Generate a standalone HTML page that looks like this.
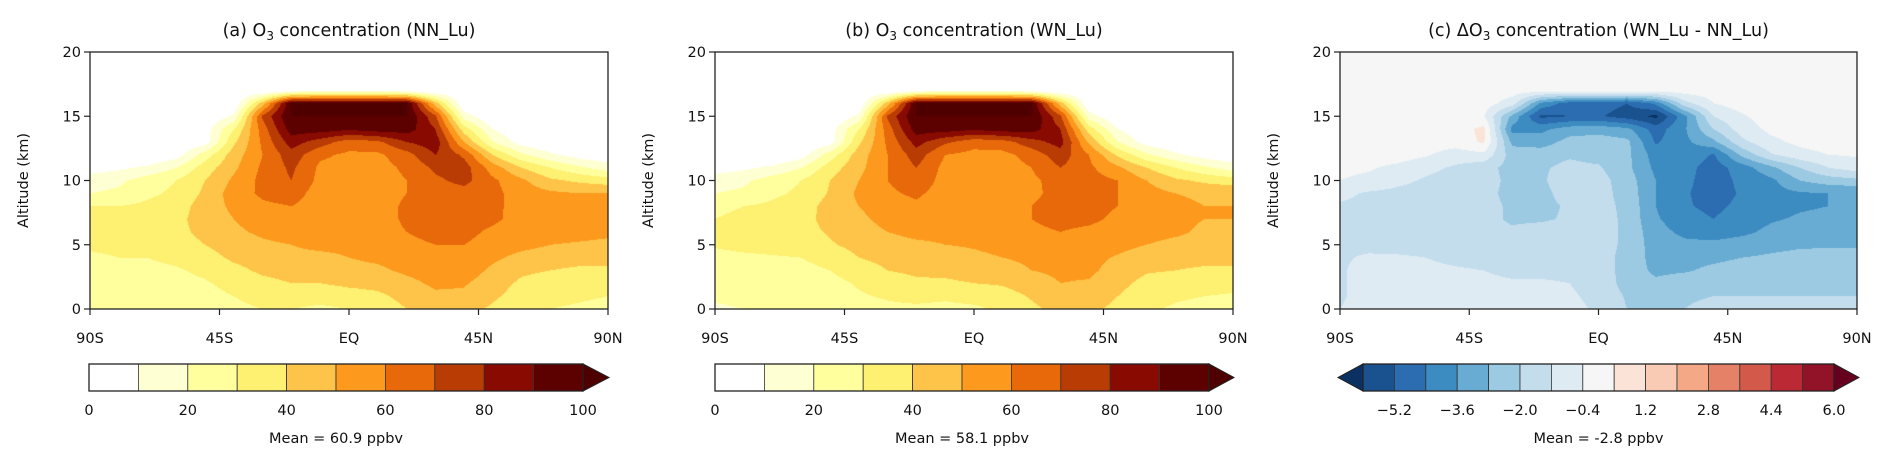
<!DOCTYPE html>
<html><head><meta charset="utf-8">
<style>
html,body{margin:0;padding:0;background:#fff;}
#wrap{position:relative;width:1892px;height:464px;overflow:hidden;font-family:"DejaVu Sans","Liberation Sans",sans-serif;}
canvas{position:absolute;}
svg{position:absolute;left:0;top:0;}
</style></head>
<body>
<div id="wrap">
<canvas id="cA"></canvas>
<canvas id="cB"></canvas>
<canvas id="cC"></canvas>
<svg id="ov" width="1892" height="464"></svg>
</div>
<script>
const latitudes=[-90,-80,-70,-60,-50,-40,-30,-20,-10,0,10,20,30,40,50,60,70,80,90];
const altitudes=[20,19,18,17,16,15,14,13,12,11,10,9,8,7,6,5,4,3,2,1,0];
const xTickLabels=["90S","45S","EQ","45N","90N"];
const yTickLabels=["0","5","10","15","20"];
const o3Levels=[0,10,20,30,40,50,60,70,80,90,100];
const o3TickLabels=["0","20","40","60","80","100"];
const dLevelsStart=-6.0, dLevelsStep=0.8;
const dTickLabels=["\u22125.2","\u22123.6","\u22122.0","\u22120.4","1.2","2.8","4.4","6.0"];
const meanNN="Mean = 60.9 ppbv", meanWN="Mean = 58.1 ppbv", meanD="Mean = -2.8 ppbv";

const o3NN=[
[0,0,0,0,0,0,0,0,0,0,0,0,0,0,0,0,0,0,0],
[0,0,0,0,0,0,0,0,0,0,0,0,0,0,0,0,0,0,0],
[0,0,0,0,0,0,0,0,0,0,0,0,0,0,0,0,0,0,0],
[0,0,0,0,0,0,0,5,8,8,8,5,0,0,0,0,0,0,0],
[0,0,0,0,0,0,45,100,100,100,100,100,45,0,0,0,0,0,0],
[0,0,0,0,0,12,72,100,100,100,100,100,72,15,0,0,0,0,0],
[0,0,0,0,5,30,65,95,95,92,95,95,80,35,10,0,0,0,0],
[0,0,0,0,5,38,62,85,75,65,68,80,86,50,20,5,0,0,0],
[0,0,0,5,25,45,60,76,62,58,58,66,80,68,40,22,12,5,2],
[5,8,12,20,35,48,62,72,58,56,56,62,72,75,55,40,30,22,15],
[15,18,25,30,40,52,63,70,57,55,55,60,68,73,62,52,42,38,35],
[20,22,28,32,42,55,62,65,55,54,55,60,65,66,63,55,52,50,50],
[30,30,32,35,45,52,58,60,55,54,55,62,66,66,63,55,54,53,53],
[32,33,35,37,45,50,55,57,55,54,55,62,65,65,62,56,55,54,54],
[33,34,35,37,43,48,52,55,55,54,55,60,64,63,58,55,54,53,52],
[32,33,34,35,40,45,48,50,52,52,55,57,60,60,56,53,50,49,48],
[28,30,30,32,36,42,45,48,48,50,52,55,57,57,52,47,45,44,44],
[25,27,28,29,32,37,42,44,45,47,48,52,55,55,48,42,40,38,38],
[23,25,26,27,29,33,37,40,40,42,43,47,52,51,45,38,35,34,33],
[22,23,24,25,27,30,33,35,34,36,38,43,48,48,42,35,32,31,30],
[20,21,22,23,25,28,30,30,28,30,34,40,45,45,38,32,30,29,28]];

const o3WN=[
[0,0,0,0,0,0,0,0,0,0,0,0,0,0,0,0,0,0,0],
[0,0,0,0,0,0,0,0,0,0,0,0,0,0,0,0,0,0,0],
[0,0,0,0,0,0,0,0,0,0,0,0,0,0,0,0,0,0,0],
[0,0,0,0,0,0,0,5,8,8,8,5,0,0,0,0,0,0,0],
[0,0,0,0,0,0,45,100,100,100,100,100,45,0,0,0,0,0,0],
[0,0,0,0,0,12,72,100,100,100,100,100,72,15,0,0,0,0,0],
[0,0,0,0,5,30,65,95,95,92,95,95,80,35,10,0,0,0,0],
[0,0,0,0,5,38,62,84,72,64,66,76,84,48,20,5,0,0,0],
[0,0,0,5,25,45,60,75,60,57,57,64,76,60,38,22,12,5,2],
[5,8,12,20,35,47,60,70,57,55,55,60,70,62,52,40,30,22,15],
[15,18,25,30,40,50,60,67,56,54,54,58,64,64,60,50,42,38,35],
[20,22,28,32,41,52,58,62,55,53,54,58,63,64,60,54,50,48,48],
[28,30,32,35,44,50,55,58,54,53,54,60,64,63,60,55,53,50,50],
[30,32,35,37,43,48,53,55,54,53,54,60,63,62,58,55,53,50,50],
[33,34,35,37,41,46,50,53,53,53,54,58,60,58,56,54,52,48,47],
[31,33,34,35,39,43,46,48,50,51,53,55,57,56,53,50,47,46,46],
[27,28,29,30,34,40,43,46,46,48,50,52,54,53,49,45,44,44,44],
[24,25,26,27,30,35,40,42,43,45,46,50,52,52,46,41,40,38,38],
[22,23,24,25,27,31,35,38,38,40,41,45,50,49,43,37,35,34,33],
[21,22,23,24,26,29,31,33,32,34,36,41,46,46,40,34,31,30,29],
[19,20,21,22,24,27,28,28,27,28,32,38,43,43,37,31,29,28,27]];

const dO3=[
[0,0,0,0,0,0,0,0,0,0,0,0,0,0,0,0,0,0,0],
[0,0,0,0,0,0,0,0,0,0,0,0,0,0,0,0,0,0,0],
[0,0,0,0,0,0,0,0,0,0,0,0,0,0,0,0,0,0,0],
[0,0,0,0,0,0,0,0,0,0,0,0,0,0,0,0,0,0,0],
[0,0,0,0,0,0,-0.8,-3.8,-4.8,-4.8,-5.2,-4.2,-1.5,-0.4,0,0,0,0,0],
[0,0,0,0,0,-0.3,-3.0,-5.4,-5.2,-5.1,-5.6,-6.2,-3.8,-1.2,-0.5,0,0,0,0],
[0,0,0,0,0,0.6,-3.9,-3.8,-3.2,-3.1,-3.4,-4.8,-3.7,-2.0,-0.8,-0.2,0,0,0],
[0,0,0,0,0,0.5,-3.0,-3.2,-2.5,-2.4,-2.6,-4.5,-3.8,-3.0,-1.4,-0.6,-0.2,0,0],
[0,0,0,-0.3,-0.8,-0.6,-2.4,-2.3,-2.1,-2.3,-2.6,-4.0,-3.8,-4.5,-2.6,-1.3,-0.7,-0.4,-0.3],
[-0.2,-0.3,-0.6,-1.0,-1.3,-1.7,-2.3,-2.1,-1.8,-1.9,-2.6,-3.8,-4.1,-4.8,-4.0,-3.0,-2.0,-1.2,-0.8],
[-0.4,-0.6,-1.0,-1.3,-1.5,-1.7,-2.2,-2.1,-1.6,-1.7,-2.4,-3.6,-4.2,-4.8,-4.2,-3.8,-2.8,-2.4,-2.2],
[-1.0,-1.3,-1.4,-1.5,-1.6,-1.8,-2.2,-2.2,-1.7,-1.7,-2.3,-3.6,-4.3,-4.8,-4.3,-3.9,-3.7,-3.6,-3.6],
[-1.3,-1.4,-1.5,-1.6,-1.7,-1.8,-2.1,-2.2,-1.9,-1.7,-2.2,-3.6,-4.3,-4.6,-4.2,-3.9,-3.7,-3.6,-3.6],
[-1.4,-1.4,-1.5,-1.6,-1.7,-1.8,-2.1,-2.1,-1.9,-1.6,-2.2,-3.5,-4.1,-4.4,-4.0,-3.7,-3.5,-3.4,-3.4],
[-1.3,-1.4,-1.5,-1.6,-1.7,-1.8,-1.9,-1.7,-1.6,-1.6,-2.2,-3.3,-3.8,-4.0,-3.8,-3.4,-3.1,-3.0,-3.0],
[-1.3,-1.4,-1.5,-1.5,-1.6,-1.7,-1.7,-1.6,-1.5,-1.6,-2.2,-3.2,-3.4,-3.4,-3.2,-3.0,-2.9,-2.9,-2.9],
[-1.3,-1.1,-1.1,-1.2,-1.4,-1.5,-1.6,-1.5,-1.5,-1.6,-2.3,-3.1,-3.1,-3.0,-2.8,-2.7,-2.6,-2.5,-2.5],
[-1.3,-0.9,-0.9,-1.0,-1.1,-1.2,-1.4,-1.4,-1.4,-1.6,-2.3,-3.0,-2.9,-2.6,-2.4,-2.3,-2.3,-2.3,-2.3],
[-1.3,-0.9,-0.9,-0.9,-1.0,-1.0,-1.1,-1.1,-1.2,-1.5,-2.3,-2.6,-2.3,-2.1,-2.1,-2.1,-2.1,-2.1,-2.1],
[-1.3,-0.9,-0.8,-0.8,-0.9,-0.9,-1.0,-1.0,-1.1,-1.4,-2.1,-2.3,-2.1,-2.0,-2.0,-2.0,-2.0,-2.0,-2.0],
[-1.2,-0.8,-0.7,-0.7,-0.8,-0.8,-0.9,-0.9,-1.0,-1.3,-2.0,-2.1,-2.0,-1.8,-1.6,-1.6,-1.8,-1.8,-1.8]];

const o3Colors=["#ffffff","#ffffd4","#ffff9e","#fef070","#fec44a","#fd9a1d","#e8690a","#b83c03","#880a00","#5c0000"];
const o3Over="#4e0000";
const dColors=["#1a5290","#2b6db0","#3c8bc1","#68acd3","#9ccae2","#c3dded","#deebf3","#f5f6f5","#fbe4d7","#f9cbb4","#f4a886","#e58166","#d35a4a","#bb2a34","#921227"];
const dUnder="#0a3161", dOver="#67001f";

const panels=[
 {id:"cA",key:"a",x0:90,x1:608,grid:o3NN,kind:"o3",title:"(a) O",titleRest:" concentration (NN_Lu)",cb:{l:89,r:583,tipR:609},mean:meanNN},
 {id:"cB",key:"b",x0:715,x1:1233,grid:o3WN,kind:"o3",title:"(b) O",titleRest:" concentration (WN_Lu)",cb:{l:715,r:1209,tipR:1234},mean:meanWN},
 {id:"cC",key:"c",x0:1340,x1:1857,grid:dO3,kind:"d",title:"(c) \u0394O",titleRest:" concentration (WN_Lu - NN_Lu)",cb:{l:1363,r:1834,tipL:1338,tipR:1859},mean:meanD}
];
const Y0=52,Y1=309,CBT=364,CBB=391;

function hex(c){return [parseInt(c.slice(1,3),16),parseInt(c.slice(3,5),16),parseInt(c.slice(5,7),16)];}
function colorFor(kind,v){
 if(kind==="o3"){ if(v>=100) return o3Over; let i=Math.floor(v/10); if(i<0)i=0; return o3Colors[i]; }
 let i=Math.floor((v-dLevelsStart)/dLevelsStep+1e-9); if(i<0) return dUnder; if(i>14) return dOver; return dColors[i];
}
function sample(grid,lat,alt){
 let fx=(lat-latitudes[0])/10, fy=(altitudes[0]-alt)/1;
 let i=Math.min(Math.max(Math.floor(fx),0),latitudes.length-2), j=Math.min(Math.max(Math.floor(fy),0),altitudes.length-2);
 let tx=fx-i, ty=fy-j;
 let a=grid[j][i],b=grid[j][i+1],c=grid[j+1][i],d=grid[j+1][i+1];
 return (a*(1-tx)+b*tx)*(1-ty)+(c*(1-tx)+d*tx)*ty;
}
const NS="http://www.w3.org/2000/svg";
const ov=document.getElementById("ov");
function mk(tag,attrs,parent){const e=document.createElementNS(NS,tag);for(const k in attrs)e.setAttribute(k,attrs[k]);(parent||ov).appendChild(e);return e;}

panels.forEach(p=>{
 const cv=document.getElementById(p.id);
 const W=p.x1-p.x0,H=Y1-Y0;
 cv.width=W;cv.height=H;cv.style.left=p.x0+"px";cv.style.top=Y0+"px";
 const ctx=cv.getContext("2d");const img=ctx.createImageData(W,H);
 const cache={};
 for(let py=0;py<H;py++){for(let px=0;px<W;px++){
  const lat=-90+180*(px+0.5)/W, alt=20*(1-(py+0.5)/H);
  const c=colorFor(p.kind,sample(p.grid,lat,alt));
  const rgb=cache[c]||(cache[c]=hex(c));
  const k=(py*W+px)*4;img.data[k]=rgb[0];img.data[k+1]=rgb[1];img.data[k+2]=rgb[2];img.data[k+3]=255;}}
 ctx.putImageData(img,0,0);

 const g=mk("g",{});
 
 
 const cx=(p.x0+p.x1)/2;
 const t=mk("text",{x:cx,y:36,"text-anchor":"middle","font-size":"17.5",fill:"#111"},g);
 
 
 t.appendChild(document.createTextNode(p.title));
 const s=mk("tspan",{"font-size":"12",dy:"4"},t);s.textContent="3";
 const r=mk("tspan",{dy:"-4"},t);r.textContent=p.titleRest;
 const fr=mk("rect",{x:p.x0,y:Y0,width:p.x1-p.x0,height:Y1-Y0,fill:"none",stroke:"#222","stroke-width":"1.3"},g);
 
 
 xTickLabels.forEach((lb,i)=>{
  const x=p.x0+(p.x1-p.x0)*i/(xTickLabels.length-1);
  mk("line",{x1:x,x2:x,y1:Y1,y2:Y1+6,stroke:"#222","stroke-width":"1.2"},g);
  const tx=mk("text",{x:x,y:343,"text-anchor":"middle","font-size":"14.5",fill:"#111"},g);
  
  
  tx.textContent=lb;
 });
 yTickLabels.forEach((lb,i)=>{
  const y=Y1-(Y1-Y0)*i/(yTickLabels.length-1);
  mk("line",{x1:p.x0-6,x2:p.x0,y1:y,y2:y,stroke:"#222","stroke-width":"1.2"},g);
  const ty=mk("text",{x:p.x0-9,y:y+5,"text-anchor":"end","font-size":"14.5",fill:"#111"},g);
  
  
  ty.textContent=lb;
 });
 const yl=mk("text",{x:0,y:0,transform:"translate("+(p.x0-62)+","+((Y0+Y1)/2)+") rotate(-90)","text-anchor":"middle","font-size":"14.5",fill:"#111"},g);
 
 
 yl.textContent="Altitude (km)";

 const cb=mk("g",{},g);
 
 
 const mid=(CBT+CBB)/2;
 if(p.kind==="o3"){
  const n=o3Colors.length, w=(p.cb.r-p.cb.l)/n;
  o3Colors.forEach((c,i)=>{const b=mk("rect",{x:p.cb.l+i*w,y:CBT,width:w,height:CBB-CBT,fill:c,stroke:"#333","stroke-width":"0.8"},cb);
   });
  mk("polygon",{points:p.cb.r+","+CBT+" "+p.cb.tipR+","+mid+" "+p.cb.r+","+CBB,fill:o3Over,stroke:"#222","stroke-width":"1"},cb);
  o3TickLabels.forEach((lb,i)=>{
   const x=p.cb.l+(p.cb.r-p.cb.l)*i/(o3TickLabels.length-1);
   const tl=mk("text",{x:x,y:415,"text-anchor":"middle","font-size":"14.5",fill:"#111"},cb);
   tl.textContent=lb;});
  mk("rect",{x:p.cb.l,y:CBT,width:p.cb.r-p.cb.l,height:CBB-CBT,fill:"none",stroke:"#222","stroke-width":"1.3"},cb);
 } else {
  const n=dColors.length, w=(p.cb.r-p.cb.l)/n;
  dColors.forEach((c,i)=>{const b=mk("rect",{x:p.cb.l+i*w,y:CBT,width:w,height:CBB-CBT,fill:c,stroke:"#333","stroke-width":"0.8"},cb);
   });
  mk("polygon",{points:p.cb.l+","+CBT+" "+p.cb.tipL+","+mid+" "+p.cb.l+","+CBB,fill:dUnder,stroke:"#222","stroke-width":"1"},cb);
  mk("polygon",{points:p.cb.r+","+CBT+" "+p.cb.tipR+","+mid+" "+p.cb.r+","+CBB,fill:dOver,stroke:"#222","stroke-width":"1"},cb);
  dTickLabels.forEach((lb,i)=>{
   const x=p.cb.l+w*(1+2*i);
   const tl=mk("text",{x:x,y:415,"text-anchor":"middle","font-size":"14.5",fill:"#111"},cb);
   tl.textContent=lb;});
  mk("rect",{x:p.cb.l,y:CBT,width:p.cb.r-p.cb.l,height:CBB-CBT,fill:"none",stroke:"#222","stroke-width":"1.3"},cb);
 }
 const mt=mk("text",{x:(p.cb.l+p.cb.r)/2,y:443,"text-anchor":"middle","font-size":"14.5",fill:"#111"},cb);
 
 
 mt.textContent=p.mean;
});
</script>
</body></html>
